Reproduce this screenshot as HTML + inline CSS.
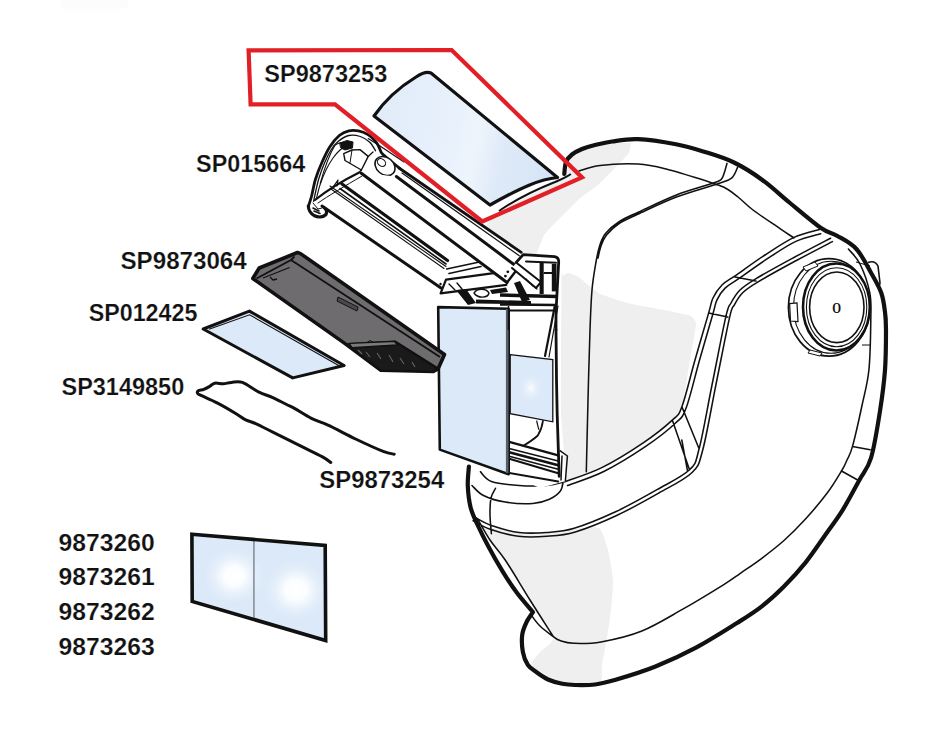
<!DOCTYPE html>
<html><head><meta charset="utf-8">
<style>
html,body{margin:0;padding:0;background:#fff;width:942px;height:733px;overflow:hidden}
svg{display:block}
text{font-family:"Liberation Sans",sans-serif;font-weight:bold;fill:#111;stroke:#fff;stroke-width:0.2px}
</style></head><body>
<svg width="942" height="733" viewBox="0 0 942 733">
<defs>
<linearGradient id="lensg" gradientUnits="userSpaceOnUse" x1="380" y1="110" x2="560" y2="150">
<stop offset="0" stop-color="#e1ecf9"/><stop offset="0.4" stop-color="#e8f1fc"/><stop offset="0.55" stop-color="#edf4fc"/><stop offset="0.7" stop-color="#dfeaf8"/><stop offset="1" stop-color="#d4e4f6"/>
</linearGradient>
<radialGradient id="glow2" cx="0.5" cy="0.5" r="0.5">
<stop offset="0" stop-color="#ffffff"/><stop offset="0.3" stop-color="#fbfdff"/><stop offset="1" stop-color="#dbe9f8" stop-opacity="0"/>
</radialGradient>
<radialGradient id="glow" cx="0.5" cy="0.5" r="0.5">
<stop offset="0" stop-color="#ffffff"/><stop offset="1" stop-color="#dbe9f8" stop-opacity="0"/>
</radialGradient>
</defs>
<rect width="942" height="733" fill="#fff"/>
<rect x="61" y="0" width="67" height="8" fill="#fcfcfc"/><rect x="64" y="8" width="56" height="3.5" fill="#fdfdfd"/>
<path d="M564.3,174.0 C568.6,165.2 564.7,165.2 566.0,162.0 C567.3,158.8 569.3,156.7 572.0,154.5 C574.7,152.3 578.2,150.6 582.0,149.0 C585.8,147.4 590.0,146.2 595.0,145.0 C600.0,143.8 604.8,142.5 612.0,141.5 C619.2,140.5 627.3,138.7 638.0,139.2 C648.7,139.7 664.8,142.2 676.0,144.3 C687.2,146.4 695.3,149.0 705.0,152.0 C714.7,155.0 724.5,157.9 734.0,162.5 C743.5,167.1 752.7,172.9 762.0,179.7 C771.3,186.4 780.2,194.9 790.0,203.0 C799.8,211.1 813.2,222.6 821.0,228.0 C828.8,233.4 831.1,232.2 837.0,235.7 C842.9,239.2 850.6,242.6 856.4,249.0 C862.2,255.4 867.6,266.7 871.7,274.0 C875.9,281.3 879.1,286.7 881.3,293.0 C883.5,299.3 884.2,305.8 885.0,312.0 C885.8,318.2 886.0,320.3 886.0,330.0 C886.0,339.7 886.0,356.5 885.0,370.0 C884.0,383.5 882.3,396.3 880.0,411.0 C877.7,425.7 874.5,446.4 871.0,458.0 C867.5,469.6 863.7,472.0 859.0,480.7 C854.3,489.4 847.9,501.6 842.6,510.2 C837.3,518.8 833.6,523.3 827.4,532.0 C821.2,540.7 812.8,553.5 805.5,562.6 C798.2,571.7 791.0,579.4 783.7,586.7 C776.4,594.0 769.5,600.3 761.8,606.3 C754.1,612.3 748.3,615.9 737.4,622.8 C726.5,629.6 710.1,640.1 696.5,647.4 C682.9,654.7 669.1,661.0 655.5,666.5 C641.9,672.0 624.7,677.1 614.6,680.1 C604.5,683.1 601.6,683.7 595.0,684.5 C588.4,685.3 580.5,685.1 575.0,685.0 C569.5,684.9 566.8,684.7 562.3,683.8 C557.8,682.9 552.3,681.4 548.0,679.5 C543.7,677.6 539.9,674.6 536.5,672.2 C533.1,669.8 530.2,668.3 527.9,665.0 C525.6,661.7 523.8,657.2 522.9,652.2 C522.0,647.2 521.6,640.0 522.2,635.0 C522.8,630.0 524.7,626.0 526.5,622.2 C528.3,618.4 534.5,617.1 532.9,612.2 C531.3,607.3 521.8,599.4 516.7,592.6 C511.7,585.8 507.3,579.0 502.6,571.3 C497.9,563.6 492.5,554.1 488.4,546.4 C484.2,538.7 480.7,531.6 477.7,525.1 C474.7,518.6 472.2,513.9 470.6,507.4 C469.0,500.9 468.1,492.8 467.8,486.0 C467.5,479.2 468.5,497.6 468.9,466.6 C469.3,435.6 461.5,336.1 470.0,300.0 C478.5,263.9 508.3,264.2 520.0,250.0 C531.7,235.8 532.6,227.7 540.0,215.0 C547.4,202.3 560.0,182.8 564.3,174.0 Z" fill="#fff"/>
<path d="M566.0,176.0 L569.0,160.0 L578.0,152.0 L594.0,146.5 L612.0,143.0 L631.0,143.0 L629.0,153.0 L620.0,163.0 L598.0,185.0 L580.0,198.0 L565.0,213.0 L550.0,228.0 L544.0,235.0 L538.0,250.0 L534.0,262.0 L524.0,256.0 L500.0,240.0 L484.0,227.0 L499.0,211.0 L540.0,190.0 L565.0,176.0 Z" fill="#efefef"/>
<path d="M561.5,283.0 C561.7,262.5 562.3,277.0 563.0,276.0 C563.7,275.0 567.1,272.9 568.7,273.0 C570.3,273.1 576.9,275.9 578.9,277.2 C580.9,278.5 586.8,284.0 589.0,285.7 C591.2,287.4 597.3,292.5 601.0,294.2 C604.7,295.9 621.3,301.3 626.4,302.7 C631.5,304.1 646.9,306.7 652.0,307.7 C657.1,308.7 673.5,311.9 677.4,312.8 C681.3,313.7 689.1,315.2 691.0,316.2 C692.9,317.2 695.7,321.1 696.0,323.0 C696.3,324.9 695.0,331.3 694.4,335.0 C693.8,338.7 691.2,352.8 690.0,360.0 C688.8,367.2 683.7,400.7 681.9,406.7 C680.1,412.7 676.2,416.5 672.3,420.1 C668.4,423.7 650.2,438.1 643.2,442.8 C636.2,447.6 609.5,463.7 601.8,467.6 C594.1,471.5 570.0,480.1 565.9,481.4 C561.8,482.7 561.4,500.8 561.0,481.0 C560.6,461.2 561.3,303.5 561.5,283.0 Z" fill="#efefef"/>
<path d="M484.0,527.0 C487.0,526.2 513.6,531.4 520.0,532.0 C526.4,532.6 542.5,533.3 548.0,533.0 C553.5,532.7 569.9,529.5 575.0,529.0 C580.1,528.5 595.7,525.9 599.0,528.0 C602.3,530.1 606.6,544.8 608.0,550.0 C609.4,555.2 612.7,574.0 613.0,580.0 C613.3,586.0 611.6,604.2 611.0,610.0 C610.4,615.8 607.9,632.5 607.0,638.0 C606.1,643.5 602.7,660.4 602.0,665.0 C601.3,669.6 602.7,682.0 600.0,684.0 C597.3,686.0 578.8,685.0 575.0,685.0 C571.2,685.0 564.7,684.3 562.0,683.8 C559.3,683.2 550.5,680.7 548.0,679.5 C545.5,678.3 538.6,673.6 537.0,672.0 C535.4,670.4 531.7,665.0 532.0,663.0 C532.3,661.0 537.9,654.6 540.0,652.0 C542.1,649.4 554.5,642.0 553.5,636.8 C552.5,631.6 534.8,607.7 530.0,600.0 C525.2,592.3 509.2,566.0 505.2,560.0 C501.2,554.0 492.1,543.3 490.0,540.0 C487.9,536.7 481.0,527.8 484.0,527.0 Z" fill="#efefef"/>
<path d="M564.3,174.0 C564.6,172.0 564.7,165.2 566.0,162.0 C567.3,158.8 569.3,156.7 572.0,154.5 C574.7,152.3 578.2,150.6 582.0,149.0 C585.8,147.4 590.0,146.2 595.0,145.0 C600.0,143.8 604.8,142.5 612.0,141.5 C619.2,140.5 627.3,138.7 638.0,139.2 C648.7,139.7 664.8,142.2 676.0,144.3 C687.2,146.4 695.3,149.0 705.0,152.0 C714.7,155.0 724.5,157.9 734.0,162.5 C743.5,167.1 752.7,172.9 762.0,179.7 C771.3,186.4 780.2,194.9 790.0,203.0 C799.8,211.1 813.2,222.6 821.0,228.0 C828.8,233.4 831.1,232.2 837.0,235.7 C842.9,239.2 850.6,242.6 856.4,249.0 C862.2,255.4 867.6,266.7 871.7,274.0 C875.9,281.3 879.1,286.7 881.3,293.0 C883.5,299.3 884.2,305.8 885.0,312.0 C885.8,318.2 886.0,320.3 886.0,330.0 C886.0,339.7 886.0,356.5 885.0,370.0 C884.0,383.5 882.3,396.3 880.0,411.0 C877.7,425.7 874.5,446.4 871.0,458.0 C867.5,469.6 863.7,472.0 859.0,480.7 C854.3,489.4 847.9,501.6 842.6,510.2 C837.3,518.8 833.6,523.3 827.4,532.0 C821.2,540.7 812.8,553.5 805.5,562.6 C798.2,571.7 791.0,579.4 783.7,586.7 C776.4,594.0 769.5,600.3 761.8,606.3 C754.1,612.3 748.3,615.9 737.4,622.8 C726.5,629.6 710.1,640.1 696.5,647.4 C682.9,654.7 669.1,661.0 655.5,666.5 C641.9,672.0 624.7,677.1 614.6,680.1 C604.5,683.1 601.6,683.7 595.0,684.5 C588.4,685.3 580.5,685.1 575.0,685.0 C569.5,684.9 566.8,684.7 562.3,683.8 C557.8,682.9 552.3,681.4 548.0,679.5 C543.7,677.6 539.9,674.6 536.5,672.2 C533.1,669.8 530.2,668.3 527.9,665.0 C525.6,661.7 523.8,657.2 522.9,652.2 C522.0,647.2 521.6,640.0 522.2,635.0 C522.8,630.0 524.7,626.0 526.5,622.2 C528.3,618.4 531.8,613.9 532.9,612.2 M532.9,612.2 C530.2,608.9 521.8,599.4 516.7,592.6 C511.7,585.8 507.3,579.0 502.6,571.3 C497.9,563.6 492.5,554.1 488.4,546.4 C484.2,538.7 480.7,531.6 477.7,525.1 C474.7,518.6 472.2,513.9 470.6,507.4 C469.0,500.9 468.1,492.8 467.8,486.0 C467.5,479.2 468.7,469.8 468.9,466.6" fill="none" stroke="#111" stroke-width="4.2" stroke-linejoin="round" stroke-linecap="round"/>
<path d="M579.0,171.0 C582.5,170.1 590.2,166.6 600.0,165.4 C609.8,164.2 626.8,163.4 638.0,164.0 C649.2,164.6 655.8,166.4 667.0,169.2 C678.2,172.0 695.5,177.6 705.0,180.6 C714.5,183.6 718.5,184.6 724.0,187.3 C729.5,190.0 733.2,193.2 738.0,197.0 C742.8,200.8 746.0,204.7 753.0,210.0 C760.0,215.3 773.2,223.9 780.0,228.6 C786.8,233.3 791.7,236.4 794.0,238.0 M727.0,163.4 C726.2,165.8 724.3,174.6 722.3,177.8 C720.2,181.0 722.4,179.6 714.7,182.5 C707.1,185.4 689.1,190.1 676.4,195.0 C663.6,199.9 647.8,207.8 638.2,212.2 C628.7,216.6 624.5,218.2 619.1,221.7 C613.7,225.2 608.9,229.4 605.7,233.2 C602.5,237.0 601.6,239.9 600.0,244.7 C598.4,249.5 597.3,254.4 596.0,262.0 C594.7,269.6 593.0,278.7 592.0,290.0 C591.0,301.3 590.7,311.7 590.0,330.0 C589.3,348.3 588.6,376.4 588.0,400.0 C587.4,423.6 586.6,459.8 586.3,471.7 M737.6,167.3 C736.6,169.1 735.1,175.1 731.9,177.8 C728.7,180.5 727.8,180.3 718.5,183.5 C709.2,186.7 689.8,191.9 676.4,197.0 C663.0,202.1 647.8,209.6 638.2,214.0 C628.7,218.4 624.4,220.0 619.1,223.5 C613.8,227.0 609.5,231.2 606.5,235.0 C603.5,238.8 602.4,242.2 601.0,246.0 C599.6,249.8 598.5,256.0 598.0,258.0 M819.4,229.5 C815.2,230.8 803.1,233.2 794.0,237.4 C784.9,241.7 774.6,248.8 765.0,255.0 C755.4,261.2 743.8,269.8 736.6,274.8 C729.4,279.8 725.9,281.1 722.0,285.0 C718.1,288.9 715.2,293.3 713.0,298.0 C710.8,302.7 711.6,302.8 708.6,313.1 C705.6,323.4 699.5,344.4 695.0,360.0 C690.5,375.6 685.7,396.7 681.9,406.7 C678.1,416.7 678.8,414.1 672.3,420.1 C665.8,426.1 655.0,434.9 643.2,442.8 C631.5,450.7 614.7,461.2 601.8,467.6 C588.9,474.0 571.9,479.1 565.9,481.4 M820.7,233.7 C816.6,235.0 804.8,237.2 795.9,241.4 C787.0,245.5 776.9,252.5 767.4,258.7 C757.9,264.9 746.2,273.5 739.1,278.4 C732.1,283.3 728.8,284.6 725.1,288.1 C721.4,291.7 719.0,295.5 717.0,299.9 C714.9,304.3 715.8,304.1 712.8,314.3 C709.9,324.5 703.7,345.6 699.2,361.2 C694.8,376.9 690.0,397.9 686.0,408.3 C682.0,418.6 682.0,417.0 675.3,423.3 C668.6,429.7 657.6,438.4 645.7,446.4 C633.7,454.5 616.8,465.0 603.8,471.5 C590.7,478.0 573.5,483.2 567.5,485.5 M830.6,238.2 C824.3,241.5 805.5,251.2 793.0,258.0 C780.5,264.8 764.5,273.5 755.7,278.8 C746.9,284.1 744.1,286.0 740.0,290.0 C735.9,294.0 733.4,298.5 731.0,303.0 C728.6,307.5 729.0,303.2 725.8,316.9 C722.6,330.6 716.5,363.0 712.0,385.0 C707.5,407.0 702.9,434.7 699.1,448.8 C695.4,462.9 696.5,463.0 689.5,469.8 C682.5,476.6 669.3,482.7 657.0,489.7 C644.7,496.7 629.4,505.4 615.6,511.8 C601.8,518.2 585.7,524.8 574.2,528.3 C562.7,531.8 555.8,531.8 546.6,532.5 C537.4,533.2 528.2,533.6 519.0,532.5 C509.8,531.4 498.8,528.1 491.4,525.6 C484.0,523.1 477.6,518.7 474.8,517.3 M832.4,241.6 C826.1,244.9 807.3,254.6 794.8,261.3 C782.4,268.1 766.4,276.8 757.7,282.1 C749.0,287.3 746.5,288.9 742.7,292.7 C738.8,296.5 736.6,300.6 734.4,304.8 C732.2,308.9 732.6,304.3 729.5,317.8 C726.4,331.3 720.2,363.8 715.7,385.8 C711.3,407.8 706.7,435.3 702.8,449.8 C698.8,464.2 699.5,465.3 692.1,472.5 C684.8,479.7 671.4,485.9 658.9,493.0 C646.4,500.1 631.1,508.8 617.2,515.2 C603.3,521.7 587.0,528.4 575.3,531.9 C563.6,535.4 556.3,535.6 546.9,536.3 C537.4,537.0 528.0,537.5 518.5,536.3 C509.1,535.1 497.7,531.8 490.2,529.2 C482.6,526.6 475.9,522.1 473.1,520.7 M735,277 L756,281 M708.6,313.1 L727.8,317 M681.9,406.7 L699.1,448.8 M672.3,420.1 L689.5,469.8 M852.5,446.4 L870.2,449.7 M841.5,471 L859,480.7 M848.4,249.0 C850.3,251.5 856.4,256.7 860.0,264.0 C863.6,271.3 868.0,283.7 869.8,293.0 C871.6,302.3 870.9,307.0 870.8,319.8 C870.6,332.6 870.4,355.7 868.9,370.0 C867.4,384.3 864.7,392.8 862.0,405.5 C859.3,418.2 855.0,437.3 852.5,446.4 C850.0,455.5 848.8,455.9 847.0,460.0 C845.2,464.1 844.8,465.5 841.5,471.0 C838.2,476.5 833.4,484.8 827.4,492.8 C821.4,500.8 812.8,511.0 805.5,519.0 C798.2,527.0 791.0,534.2 783.7,540.8 C776.4,547.3 769.1,552.8 761.8,558.3 C754.5,563.8 746.3,569.2 740.0,573.6 C733.7,578.0 733.3,578.7 723.8,584.6 C714.3,590.5 696.4,601.5 682.8,609.2 C669.1,616.9 655.5,625.5 641.9,631.0 C628.3,636.5 612.4,639.9 601.0,641.9 C589.6,643.9 580.4,643.5 573.6,643.3 C566.8,643.1 563.4,641.7 560.0,640.6 C556.6,639.5 554.6,637.4 553.5,636.8 M480.4,471.7 C482.2,473.3 485.0,479.1 491.4,481.4 C497.8,483.7 509.8,484.8 519.0,485.5 C528.2,486.2 538.8,486.2 546.6,485.5 C554.4,484.8 562.7,482.1 565.9,481.4 M472.0,485.5 C473.8,487.1 477.5,492.4 483.0,495.2 C488.5,498.0 496.9,500.7 505.2,502.1 C513.5,503.5 525.4,504.0 532.8,503.5 C540.2,503.0 544.8,501.4 549.4,499.3 C554.0,497.2 558.1,494.0 560.4,491.0 C562.7,488.0 562.7,483.0 563.2,481.4 M495.5,488.3 C494.8,489.9 491.9,493.6 491.0,498.0 C490.1,502.4 489.9,509.0 490.0,515.0 C490.1,521.0 491.2,530.7 491.4,533.8 M477.6,519.0 C479.7,522.5 485.4,533.2 490.0,540.0 C494.6,546.8 498.5,550.0 505.2,560.0 C511.9,570.0 522.0,587.2 530.0,600.0 C538.0,612.8 549.6,630.7 553.5,636.8 M530.4,614.0 C532.0,616.0 536.1,622.2 540.0,626.0 C543.9,629.8 551.2,635.0 553.5,636.8 M681.8,440.0 C682.7,445.1 686.5,465.3 687.4,470.4" fill="none" stroke="#111" stroke-width="1.55" stroke-linejoin="round" stroke-linecap="round"/>
<g stroke="#111" fill="#fff">
<ellipse cx="829" cy="307.4" rx="40.6" ry="48.7" stroke-width="1.7"/>
<ellipse cx="831" cy="307.3" rx="37.5" ry="46" fill="none" stroke-width="1.1"/>
<ellipse cx="836.4" cy="307" rx="33.4" ry="43.5" stroke-width="2.6"/>
<ellipse cx="836.6" cy="307.2" rx="30.2" ry="39.5" fill="none" stroke-width="1.1"/>
<ellipse cx="836.8" cy="307.3" rx="27.2" ry="35.3" fill="none" stroke-width="1.6"/>
<path d="M789.6,303.6 L797,303 L798,321.7 L790.5,321 Z" stroke-width="1.2"/>
<path d="M803,267 L815,262 L818,266 L806,271 Z" stroke-width="1"/>
<path d="M810,350 L822,353 L820,356 L808,353 Z" stroke-width="1"/>
<path d="M868,262.5 C872,261 876,262 878,266 L880,283 C880,286 878,286 876,285" fill="none" stroke-width="1.6"/>
<path d="M883.2,310 L886,312 L886.5,319 L884,320" fill="none" stroke-width="1.6"/>
<path d="M856,262 L870,266" fill="none" stroke-width="1"/>
<path d="M862,345 L870,345" fill="none" stroke-width="1"/>
</g>
<text x="832.2" y="313.2" textLength="8.8" lengthAdjust="spacingAndGlyphs" style="font-family:'Liberation Serif',serif;font-weight:bold;font-size:15.5px;stroke:none">O</text>
<path d="M462,293 L522,254 L555,256 L558,262 L560,400 L566,481 L540,488 L508,474 Z" fill="#fff"/>
<path d="M510.2,354.6 L552.8,359.6 L552.8,421.8 L510.2,413.6 Z" fill="#dce9f8" stroke="#111" stroke-width="1.3"/>
<ellipse cx="531" cy="388" rx="13" ry="16" fill="url(#glow)" opacity="0.85"/>
<g fill="none" stroke="#111" stroke-width="1.5" stroke-linecap="round">
<path d="M556,330 L556.5,380 L557.2,415 L559.2,476.4" stroke-width="2.8"/>
<path d="M555,305 L545,356" stroke-width="2.2"/><path d="M558,306 L549,357" stroke-width="1.2"/>
<path d="M510.1,442.1 L558.2,455.4" stroke-width="2.4"/>
<path d="M510.1,448.8 L558.2,461" stroke-width="1.6"/>
<path d="M510.1,452.4 L558.2,465.2" stroke-width="2.6"/>
<path d="M510.1,456.5 L558.2,469.2" stroke-width="1.6"/>
<path d="M510.1,459 L558.2,473.3" stroke-width="2"/>
<path d="M505,472.3 L558.2,481.5" stroke-width="2"/>
<path d="M560.3,450.8 L567.4,456 L565.4,480.5 M562,456 L561,480" stroke-width="1.5"/>
<path d="M542.9,421 C542,428 540,432 537.8,435.5 C533,440 528,443 523.4,445.7" stroke-width="1.8"/>
<path d="M536.7,421 C537.5,424 538,427 538.8,429.3" stroke-width="1.2"/>
</g>
<path d="M438.2,307.1 L508.6,308.8 L508.6,474.2 L439.8,449.6 Z" fill="#dbe9f8" stroke="#111" stroke-width="2.6" stroke-linejoin="round"/>
<path d="M507.4,309 L507.4,473" stroke="#56606b" stroke-width="3"/><path d="M509.3,309 L509.3,474" stroke="#111" stroke-width="1.4"/>
<path d="M308.2,206.9 L309.5,193.2 L313.6,179.6 L320.5,163.2 L327.3,150.9 L334.1,141.4 L343.7,133.2 L354.6,131.1 L362.8,133.2 L368.2,138.6 L376.0,152.0 L400.0,166.0 L522.0,253.0 L530.0,262.0 L526.0,282.0 L500.0,290.0 L441.4,284.0 L326.0,213.0 L318.0,215.0 L310.0,212.0 Z" fill="#fff"/>
<g fill="none" stroke="#111" stroke-linejoin="round" stroke-linecap="round">
<path d="M308.3,206.5 C308.9,204.8 310.4,200.5 311.6,196.0 C312.8,191.5 313.7,185.1 315.4,179.5 C317.1,173.9 319.6,167.7 322.0,162.3 C324.4,156.9 326.8,151.5 329.7,147.0 C332.6,142.5 336.1,138.2 339.3,135.5 C342.5,132.8 345.6,131.6 348.8,130.8 C352.0,130.0 355.2,130.2 358.4,130.8 C361.6,131.4 365.1,132.8 368.0,134.6 C370.9,136.3 373.7,139.1 375.6,141.3 C377.5,143.5 378.2,145.8 379.4,148.0 C380.6,150.2 379.6,151.2 383.0,154.6 C386.4,158.0 397.2,166.2 400.0,168.5" stroke-width="2.8"/>
<path d="M313.6,201.4 C314.0,199.5 315.1,193.9 316.0,190.0 C316.9,186.1 317.6,182.5 319.0,178.0 C320.4,173.5 322.5,167.7 324.5,163.0 C326.5,158.3 328.8,153.6 331.0,150.0 C333.2,146.4 335.0,143.9 338.0,141.5 C341.0,139.1 345.1,136.3 348.8,135.5 C352.5,134.7 356.8,135.4 360.3,136.5 C363.8,137.6 367.2,139.8 369.8,142.2 C372.4,144.6 374.6,149.4 375.6,150.8" stroke-width="1.3"/>
<path d="M316.4,198.7 C317.0,196.4 318.4,189.8 320.0,185.0 C321.6,180.2 323.8,174.5 326.0,170.0 C328.2,165.5 330.7,161.3 333.0,158.0 C335.3,154.7 337.8,152.0 340.0,150.0 C342.2,148.0 345.0,146.7 346.0,146.0" stroke-width="1.1"/>
<path d="M308.3,206 C308.5,210 310,213 314,215.5 C318,217.5 323,217.5 326,214.5 C327,212 326.5,209.5 324.6,208.2" stroke-width="3.2"/>
<path d="M313,208 L319,211 M314,211 L320,213.5" stroke-width="1.6"/>
<path d="M313,203 L318,209 L322,208" stroke-width="1"/>
<path d="M343.7,153.6 L352,150 L360,149.6 L368.2,156.4 L361.4,170 L345,160.5 Z" stroke-width="1.4"/>
<path d="M352,150 L350,163" stroke-width="1"/>
<path d="M340,143 L347,140.5 L353,142 L352.5,148 L345,150 L341,148 Z" fill="#111" stroke-width="1"/>
<path d="M320.2,183.3 C324,170 328,157 334.5,146 C337,143 340,142.5 343,142.2" stroke-width="1.1"/>
<path d="M368.2,156.4 L373,152 M361.4,170 L358.7,172.7" stroke-width="1.3"/>
<ellipse cx="385" cy="166" rx="11" ry="8.5" transform="rotate(40 385 166)" fill="#fff" stroke-width="1.5"/>
<ellipse cx="381.5" cy="162.5" rx="4.5" ry="3.5" transform="rotate(40 381.5 162.5)" stroke-width="1.1"/>
<path d="M315,200 C325,192 340,182 358.7,172.7" stroke-width="2.2"/>
<path d="M318,203 C328,196 345,186 362,176" stroke-width="1"/>
<path d="M333,187 L338,180 L337,186" stroke-width="1.2"/>
<path d="M322,206 L441,288" stroke-width="3"/>
<path d="M330,186 L446,266.5 M331,189 L444,268.5" stroke-width="1.1"/>
<path d="M342,184 L447.5,260.5" stroke-width="3.2"/>
<path d="M340,188.5 L446,264" stroke-width="1.6"/>
<path d="M399,168 L521.2,252.3" stroke-width="2.8"/>
<path d="M368.2,138.6 L380,146 L404,162" stroke-width="1.2"/>
</g>
<path d="M361,173 L396.4,176.5 L516,266 L517,269.5 L507,282.5 Z" fill="#fff"/>
<g fill="none" stroke="#111" stroke-linejoin="round" stroke-linecap="round">
<path d="M361,173 L507,282.5" stroke-width="3"/>
<path d="M396.4,176.5 L516,266" stroke-width="3"/>
<path d="M507,282.5 L517,269.5 L516,266" stroke-width="2.4"/>
<path d="M402,173 L519.3,255.8" stroke-width="1.2"/>
<path d="M446,279.6 L493.7,273.2 M440.6,293.4 L506.4,284.9 M446,279.6 L440.6,293.4" stroke-width="2.2"/>
<path d="M446.7,269 L478.2,262.3 M449,273.5 L481,266.5" stroke-width="1.6"/>
<path d="M449,284 L455,290 M457,283 L462,289" stroke-width="1.4"/>
<path d="M516,262.6 L523.2,254.6 L554.6,256.6 C557.5,257.2 558.7,259 558.7,261.4 L556,312 L556,330" stroke-width="2.8"/>
<path d="M526,261.4 L556,262.7" stroke-width="2"/>
<path d="M516.4,262.7 L541,282 L536,288 L512,268" fill="#fff" stroke-width="2"/>
<path d="M530,283 L537,289 M526,279 L533,286" stroke-width="1.2"/>
</g>
<g fill="#111">
<circle cx="507.8" cy="271.8" r="1.4"/><circle cx="505.4" cy="276.1" r="1.4"/><circle cx="440.5" cy="284" r="1.2"/>
<path d="M456,290 L466,289 L476,303 L468,305 Z"/>
<path d="M476,299.5 L531,301 L531,304.5 L476,303.5 Z"/>
<path d="M490,290 L506,287.5 L508,292 L492,294 Z"/>
<path d="M514,283 L520,281 L530,300 L522,302 Z"/>
<path d="M539.6,262.7 L543.7,262.7 L543.7,294 L539.6,294 Z"/>
<path d="M551.8,264 L556.5,264 L556.5,291.4 L551.8,291.4 Z"/>
<path d="M543.7,272 L552,272 L552,274 L543.7,274 Z"/>
</g>
<path d="M474,293 C477,288 486,288 489,293 C488,298 478,299 474,293 Z" fill="#fff" stroke="#111" stroke-width="1.4"/>
<g stroke="#111" fill="none">
<path d="M500,295 L557,296.5" stroke-width="3.5"/>
<path d="M500,304.5 L555,305" stroke-width="2.4"/>
<path d="M508,310.5 L555,310.5" stroke-width="2.2"/>
<path d="M508.5,306 L508.5,330" stroke-width="1.5"/>
</g>

<path d="M374,116 C383,103 398,88 416,77 C422,73 427,71.5 431,73 L557.5,177.5 C540,179 520,188 490,205 Z" fill="url(#lensg)" stroke="#111" stroke-width="3.2" stroke-linejoin="round"/>
<path d="M499,211 C515,200 540,188 555,182 C562,179 567,177 570.8,174" fill="none" stroke="#111" stroke-width="2"/>
<path d="M248.6,50.4 L451.6,50 L582,177.4 L482.2,221.5 L335,104.4 L250.6,104.4 Z" fill="none" stroke="#e21f26" stroke-width="4.2" stroke-linejoin="miter"/>
<g id="filter" stroke="#111" stroke-linejoin="round">
<path d="M252.8,278.5 L259.2,268 L297.5,252.5 L300.5,253.6 L444.5,354.5 L438,369 L433.4,371.4 L380.9,370.2 L344.7,343.4 Z" fill="#6e6c6e" stroke-width="3.6"/>
<path d="M256.5,278.5 L291,260 L294.5,256.5 M291,260 L440,357" fill="none" stroke-width="1.8"/>
<path d="M346,344 L395,341.5 L437,368 L433.4,371.4 L380.9,370.2 Z" fill="#1a1a1a" stroke-width="1.5"/>
<path d="M349.3,343.4 L394.9,341.2 L397,345 L352,347.8 Z" fill="#7a7a7a" stroke-width="1.4"/>
<path d="M394.9,341.6 L437,368" fill="none" stroke-width="2.4"/>
<path d="M367,342.5 L370,340.5 L373,342.3" fill="none" stroke-width="1"/>
<path d="M338,297 L358,307 L357,311 L337,301 Z" fill="#4a4a4a" stroke-width="1"/>
<path d="M263,278 L289.6,267.5 M270,277 L273,280 L277,279" fill="none" stroke-width="1.3"/>
</g>
<g stroke="#666" stroke-width="1.1" fill="none">
<path d="M366,352 L370,357 M377,353 L381,359 M389,355 L393,362 M400,358 L404,364 M412,362 L415,367 M358,350 L362,354"/>
</g>
<path d="M203.2,329 L249.4,311.1 L344.1,365.5 L292.7,377.9 Z" fill="#dbe9f8" stroke="#111" stroke-width="3" stroke-linejoin="round"/>
<path d="M209,329.3 L249.6,314.8 L339.5,366" fill="none" stroke="#111" stroke-width="1.1"/>
<path d="M394.2,454.2 C392.4,453.7 389.6,453.9 383.2,451.4 C376.8,448.9 364.8,443.4 355.6,439.0 C346.4,434.6 335.4,428.6 328.0,425.2 C320.6,421.8 316.9,421.1 311.4,418.3 C305.9,415.5 299.0,410.9 294.9,408.6 C290.8,406.3 290.3,406.3 286.6,404.5 C282.9,402.7 277.4,399.7 272.8,397.6 C268.2,395.5 264.1,394.6 259.0,392.1 C253.9,389.6 247.0,384.0 242.4,382.4 C237.8,380.8 234.6,382.2 231.4,382.4 C228.2,382.6 225.9,383.7 223.1,383.8 C220.3,383.9 217.1,382.7 214.8,383.2 C212.5,383.7 211.1,385.6 209.3,386.6 C207.5,387.6 205.6,388.6 203.8,389.3 C202.0,390.0 199.3,390.0 198.3,390.7 C197.3,391.4 197.2,392.7 197.7,393.5 C198.1,394.3 197.7,393.8 201.0,395.4 C204.3,397.0 211.6,400.0 217.6,403.1 C223.6,406.2 232.3,411.4 236.9,414.2 C241.5,417.0 242.0,418.1 245.2,419.7 C248.4,421.3 251.6,421.7 256.2,423.8 C260.8,425.9 265.4,428.4 272.8,432.1 C280.2,435.8 292.1,441.8 300.4,445.9 C308.7,450.0 317.4,454.1 322.5,456.9 C327.6,459.7 329.4,461.6 330.8,462.5" fill="none" stroke="#111" stroke-width="3" stroke-linecap="round" stroke-linejoin="round"/>
<path d="M191.9,534.3 L325.2,545.4 L325.7,640.5 L192.2,601.4 Z" fill="#dbe9f8"/>
<ellipse cx="234" cy="576" rx="34" ry="32" fill="url(#glow2)"/>
<ellipse cx="296" cy="590" rx="36" ry="34" fill="url(#glow2)"/>
<path d="M253.9,541 L253.9,618" stroke="#8a8f96" stroke-width="1.6"/>
<path d="M191.9,534.3 L325.2,545.4 L325.7,640.5 L192.2,601.4 Z" fill="none" stroke="#111" stroke-width="3.6" stroke-linejoin="miter"/>
<g font-size="24">
<text x="264.3" y="82.4" textLength="123.0" lengthAdjust="spacingAndGlyphs">SP9873253</text>
<text x="196.1" y="171.9" textLength="109.2" lengthAdjust="spacingAndGlyphs">SP015664</text>
<text x="120.5" y="268.5" textLength="126.2" lengthAdjust="spacingAndGlyphs">SP9873064</text>
<text x="88.7" y="321.4" textLength="108.7" lengthAdjust="spacingAndGlyphs">SP012425</text>
<text x="61.5" y="395.3" textLength="122.7" lengthAdjust="spacingAndGlyphs">SP3149850</text>
<text x="319.3" y="488.0" textLength="124.9" lengthAdjust="spacingAndGlyphs">SP9873254</text>
<text x="58.6" y="550.8" textLength="96.1" lengthAdjust="spacingAndGlyphs">9873260</text>
<text x="58.6" y="584.6" textLength="96.1" lengthAdjust="spacingAndGlyphs">9873261</text>
<text x="58.6" y="620.0" textLength="96.1" lengthAdjust="spacingAndGlyphs">9873262</text>
<text x="58.6" y="655.0" textLength="96.1" lengthAdjust="spacingAndGlyphs">9873263</text>
</g>
</svg>
</body></html>
